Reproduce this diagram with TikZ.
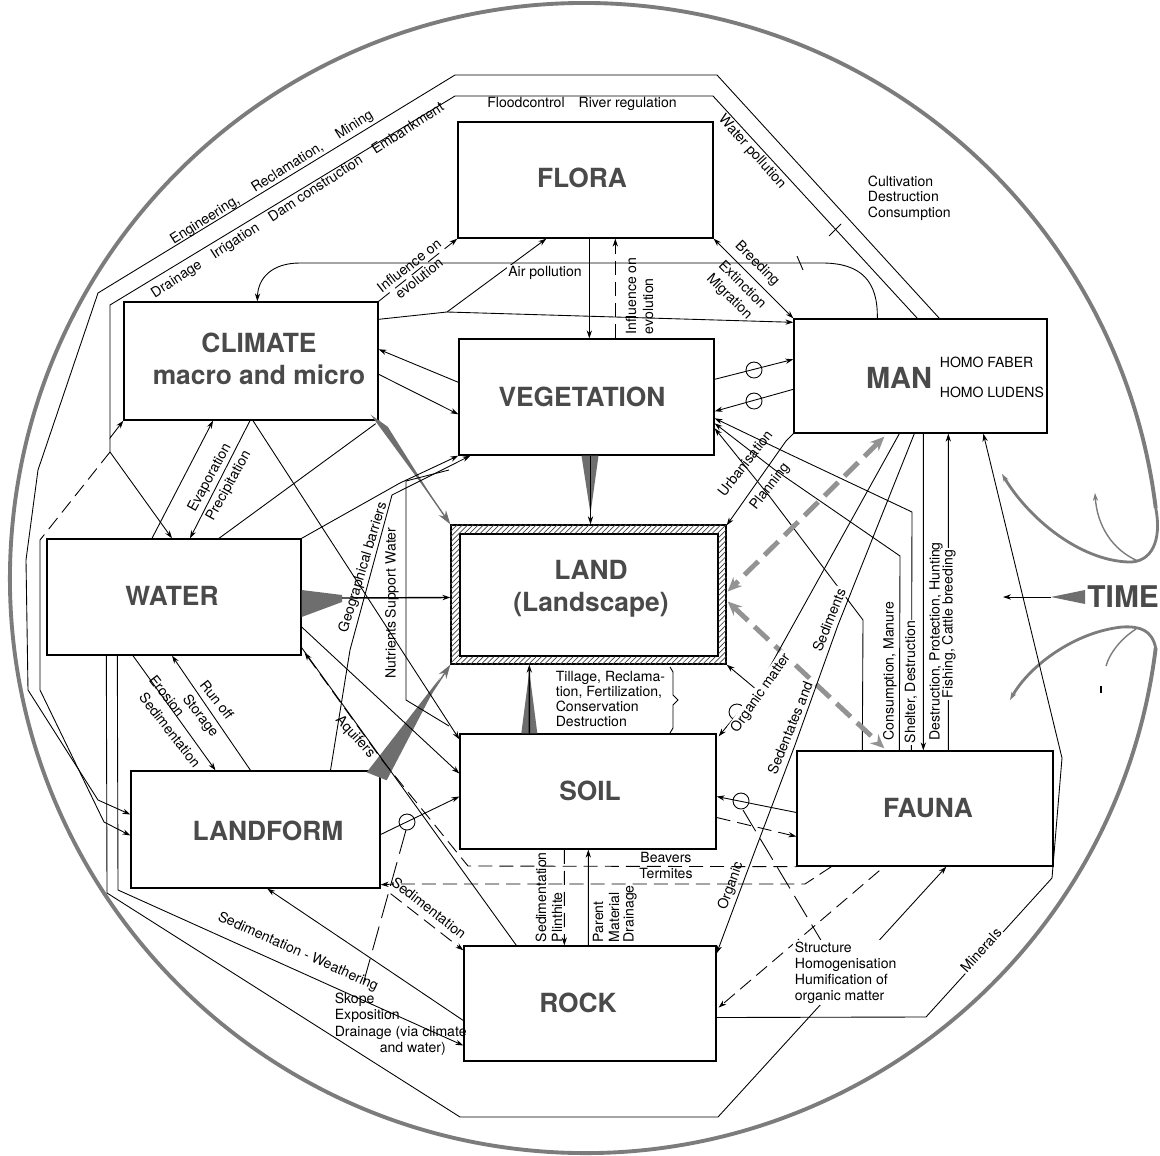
\documentclass[tikz,border=0pt]{standalone}
\usepackage{fontspec}
\setmainfont{TeX Gyre Heros}
\usetikzlibrary{calc,arrows.meta,patterns}
\definecolor{ttl}{HTML}{4A4A4A}
\definecolor{ringc}{HTML}{7C7C7C}
\definecolor{wdg}{HTML}{6E6E6E}
\begin{document}
\begin{tikzpicture}[x=0.02cm,y=-0.02cm,
  >={Stealth[length=4.5pt,width=3pt]},
  line width=0.5pt,
  box/.style={draw,line width=0.8pt,inner sep=0pt},
  ttlnode/.style={font=\fontsize{15}{18}\selectfont\bfseries,text=ttl,align=center,inner sep=0pt},
  lab/.style={font=\fontsize{8}{9.2}\selectfont,inner sep=0.8pt},
  labw/.style={lab,fill=white},
  wedge/.style={fill=wdg,draw=none},
  bigtip/.style={-{Stealth[length=8pt,width=5pt]}},
  gdash/.style={draw=gray!85,line width=2.8pt,dash pattern=on 11pt off 5pt,
     {Stealth[length=8pt,width=7pt]}-{Stealth[length=8pt,width=7pt]}},
  ldash/.style={dash pattern=on 8pt off 4pt},
  circ/.style={draw=ringc,line width=2.2pt}
]
\fill[white] (0,0) rectangle (1160,1156);
\useasboundingbox (0,0) rectangle (1160,1156);

% ---------------- boxes ----------------
\node[box,minimum width=5.10cm,minimum height=2.32cm] (fl) at (585.5,180) {};
\node[box,minimum width=5.08cm,minimum height=2.36cm] (cl) at (251,361) {};
\node[box,minimum width=5.10cm,minimum height=2.32cm] (ve) at (586.5,397) {};
\node[box,minimum width=5.06cm,minimum height=2.28cm] (ma) at (920.5,376) {};
\node[box,minimum width=5.08cm,minimum height=2.32cm] (wa) at (174,597) {};
\node[box,minimum width=5.50cm,minimum height=2.78cm] (la) at (588.5,594.5) {};
\node[box,minimum width=5.16cm,minimum height=2.44cm] (lai) at (589,595) {};
\node[box,minimum width=5.12cm,minimum height=2.30cm] (so) at (588,791.5) {};
\node[box,minimum width=4.98cm,minimum height=2.34cm] (lf) at (255.5,829.5) {};
\node[box,minimum width=5.12cm,minimum height=2.30cm] (fa) at (925,808.5) {};
\node[box,minimum width=5.04cm,minimum height=2.30cm] (ro) at (590,1003.5) {};
\fill[pattern=north east lines,pattern color=black!75,even odd rule]
  (la.north west) rectangle (la.south east) (lai.north west) rectangle (lai.south east);

\node[ttlnode] (flt) at (582,178) {FLORA};
\node[ttlnode] (clt) at (259,359) {CLIMATE\\macro and micro};
\node[ttlnode] (vet) at (582,397) {VEGETATION};
\node[ttlnode,font=\fontsize{16.5}{18}\selectfont\bfseries] (mat) at (899,378) {MAN};
\node[lab,anchor=west] (hf) at (938,362) {HOMO FABER};
\node[lab,anchor=west] (hl) at (938,392) {HOMO LUDENS};
\node[ttlnode] (wat) at (172,596) {WATER};
\node[ttlnode] (lat) at (591,589) {LAND\\(Landscape)};
\node[ttlnode] (sot) at (590,791) {SOIL};
\node[ttlnode] (lft) at (268,831) {LANDFORM};
\node[ttlnode] (fat) at (928,808) {FAUNA};
\node[ttlnode] (rot) at (578,1003) {ROCK};

% ---------------- outer ring and TIME ----------------
\coordinate (rt) at (1155.7,507.9);
\coordinate (rb) at (1155.7,648.1);
\draw[circ] (rb) arc[start angle=7,end angle=353,radius=575];
\draw[draw=ringc,line width=1.6pt,->] (rt) .. controls (1162,540) and (1152,563) .. (1128,562)
   .. controls (1080,560) and (1030,520) .. (1002,474);
\draw[draw=ringc,line width=1.6pt,->] (rb) .. controls (1152,630) and (1140,626) .. (1122,627)
   .. controls (1075,632) and (1030,665) .. (1010,700);
\draw[draw=ringc,line width=0.8pt,->] (1138,561) .. controls (1112,550) and (1097,525) .. (1095,493);
\draw[draw=ringc,line width=0.8pt] (1136,629) .. controls (1122,638) and (1110,652) .. (1106,666);
\draw[line width=0.8pt] (1101,686) -- (1101,693);
\node[anchor=west,font=\fontsize{17}{17}\selectfont\bfseries,text=ttl,inner sep=0pt] (time) at (1087,597) {TIME};
\fill[wedge] ($(time.west)+(-2,-7)$) -- ($(time.west)+(-2,7)$) -- ($(time.west)+(-36,0)$) -- cycle;
\draw[->] ($(time.west)+(-36,0)$) -- (1003,597);

% ---------------- outer channels ----------------
\coordinate (a1) at (717,75);  \coordinate (a2) at (455,75);
\coordinate (a3) at (98,293);  \coordinate (a4) at (38,470);
\coordinate (a5) at (26,560);  \coordinate (a6) at (28,690);
\coordinate (a7) at (98,800);
\draw[->] ($(ma.north west)+(146,0)$) -- (a1) -- (a2) -- (a3) -- (a4) -- (a5) -- (a6) -- (a7) -- ($(lf.west)+(0,-15)$);
\coordinate (b1) at (713,96);  \coordinate (b2) at (455,96);
\coordinate (b3) at (110,305); \coordinate (b4) at (110,438);
\draw[->] ($(ma.north west)+(124,0)$) -- (b1) -- (b2) -- (b3) -- (b4) -- (cl.south west);
\draw (829,236) -- (841,224);
\node[lab,rotate=32.5] (eng) at (272,178) {Engineering,\hspace{1.25em}Reclamation,\hspace{1.25em}Mining};
\node[lab,rotate=33] (dra) at (298,201) {Drainage\hspace{1em}Irrigation\hspace{1em}Dam construction\hspace{1em}Embankment};
\node[lab] (flood) at (582,104) {Floodcontrol\hspace{1em}River regulation};
\node[lab,rotate=-48] (wpol) at (752,152) {Water pollution};
\node[lab,align=left,anchor=west,font=\fontsize{8}{8.8}\selectfont] (cult) at (866,198) {Cultivation\\Destruction\\Consumption};

% left side
\coordinate (jl) at (110,452);
\coordinate (d1) at (40,540); \coordinate (d2) at (40,690); \coordinate (d3) at (104,822);
\draw[ldash] (jl) -- (d1);
\draw[->] (d1) -- (d2) -- (d3) -- ($(lf.west)+(0,6)$);
\draw[->] (b4) -- (jl) -- ($(wa.north)+(-2,0)$);
\coordinate (w1) at (107,893); \coordinate (w2) at (460,1117); \coordinate (w3) at (718,1117);
\draw[->] ($(wa.south west)+(60,0)$) -- (w1) -- (w2) -- (w3) -- ($(fa.south west)+(150,0)$);
\coordinate (s1) at (118,890);
\draw[->] ($(wa.south west)+(71,0)$) -- (s1) -- ($(ro.west)+(0,42)$);
\node[lab,rotate=-24] (sw) at (298,952) {Sedimentation - Weathering};
\draw[->] ($(ro.west)+(0,17)$) -- ($(lf.south west)+(137,0)$);

% ---------------- top region ----------------
\coordinate (arcR) at (822,263); \coordinate (arcL) at (300,263);
\draw[->] ($(ma.north west)+(84,0)$) .. controls (878,282) and (862,263) .. (arcR) -- (arcL)
   .. controls (272,263) and (258,278) .. ($(cl.north west)+(134,0)$);
\draw (797,256) -- (803,270);
\draw[ldash,->] (cl.north east) -- (fl.south west);
\node[lab,rotate=38,align=center] (infl) at (414,272) {Influence on\\evolution};
\coordinate (ap) at (447,312);
\draw[->] ($(cl.north east)+(0,18)$) -- (ap) -- ($(fl.south west)+(89,0)$);
\draw[->] (ap) -- ($(ma.north west)+(0,4)$);
\node[labw] (airp) at (545,273) {Air pollution};
\draw[->] ($(fl.south west)+(132,0)$) -- ($(ve.north west)+(131,0)$);
\draw[ldash,->] ($(ve.north west)+(157,0)$) -- ($(fl.south west)+(158,0)$);
\node[lab,rotate=90,anchor=west] (inf2a) at (631,336) {Influence on};
\node[lab,rotate=90,anchor=west] (inf2b) at (648,336) {evolution};
\draw[<->] (fl.south east) -- (ma.north west);
\node[lab,rotate=-45] (bree) at (757,264) {Breeding};
\node[lab,rotate=-45] (exti) at (743,284) {Extinction};
\node[lab,rotate=-45] (migr) at (729,297) {Migration};

% CLIMATE - VEGETATION - MAN
\draw[<-] ($(cl.north east)+(0,48)$) -- ($(ve.north west)+(0,44)$);
\draw[->] ($(cl.north east)+(0,73)$) -- ($(ve.north west)+(0,76)$);
\draw[->] ($(ve.north east)+(0,41)$) -- ($(ma.north west)+(0,41)$);
\draw (754,370) circle[radius=8];
\draw[->] ($(ma.north west)+(0,71)$) -- ($(ve.north east)+(0,73)$);
\draw (754,401) circle[radius=8];
\draw[->] (ma.south west) -- (786,441) -- ($(la.north east)+(0,1)$);
\node[lab,rotate=52] (urb) at (745,463) {Urbanisation};
\node[lab,rotate=52] (plan) at (770,487) {Planning};

% fan from VEGETATION to FAUNA
\coordinate (f1a) at (787,453); \coordinate (f1b) at (912,512);
\coordinate (f2a) at (775,470); \coordinate (f2b) at (900,556);
\coordinate (f3a) at (770,497); \coordinate (f3b) at (863,620);
\draw[<-] ($(ve.north east)+(0,80)$) -- (f1a) -- (f1b) -- ($(fa.north west)+(115,0)$);
\draw[<-] ($(ve.north east)+(0,85)$) -- (f2a) -- (f2b) -- ($(fa.north west)+(103,0)$);
\draw[<-] ($(ve.north east)+(0,90)$) -- (f3a) -- (f3b) -- ($(fa.north west)+(66,0)$);
\node[lab,rotate=90,anchor=west] (cons) at (890,742) {Consumption, Manure};
\node[labw,rotate=90,anchor=west] (shel) at (911,745) {Shelter, Destruction};
\draw[->] ($(ma.south west)+(130,0)$) -- ($(fa.north west)+(127,0)$);
\node[lab,rotate=90,anchor=west] (dest) at (936,742) {Destruction, Protection, Hunting};
\draw[->] ($(fa.north west)+(152,0)$) -- ($(ma.south west)+(155,0)$);
\node[labw,rotate=90,anchor=west] (fish) at (949,700) {Fishing, Cattle breeding};

% ---------------- big wedges into LAND ----------------
\fill[wedge] ($(cl.south east)+(-8,-6)$) -- ($(cl.south east)+(9,6)$) -- (437,505) -- cycle;
\draw[line width=0.8pt,draw=wdg,bigtip] (cl.south east) -- (la.north west);
\fill[wedge] ($(ve.south)+(-5,0)$) -- ($(ve.south)+(12,0)$) -- ($(ve.south)+(4,58)$) -- cycle;
\draw[line width=0.8pt,->] ($(ve.south)+(4,0)$) -- ($(la.north)+(2,0)$);
\fill[wedge] ($(wa.east)+(0,-7)$) -- (342,595) -- (342,602) -- ($(wa.east)+(0,20)$) -- cycle;
\draw[line width=0.8pt,->] (342,598) -- ($(la.west)+(0,3)$);
\fill[wedge] ($(so.north west)+(62,0)$) -- ($(so.north west)+(78,0)$) -- ($(so.north west)+(70,-62)$) -- cycle;
\draw[line width=0.8pt,->] ($(so.north west)+(70,0)$) -- ($(la.south west)+(79,0)$);
\fill[wedge] ($(lf.north east)+(-14,2)$) -- ($(lf.north east)+(6,10)$) -- (440,678) -- cycle;
\draw[line width=0.8pt,draw=wdg,bigtip] (lf.north east) -- (la.south west);

% grey dashed links MAN / FAUNA - LAND
\draw[gdash] ($(ma.south west)+(91,3)$) -- ($(la.east)+(1,-3)$);
\draw[gdash] ($(la.east)+(1,7)$) -- ($(fa.north west)+(88,-2)$);

% ---------------- WATER / CLIMATE / LANDFORM ----------------
\draw[->] ($(wa.north)+(-22,0)$) -- ($(cl.south)+(-38,0)$);
\draw[->] ($(cl.south)+(-1,0)$) -- ($(wa.north)+(16,0)$);
\node[lab,rotate=61] (evap) at (210,478) {Evaporation};
\node[lab,rotate=61] (prec) at (229,486) {Precipitation};
\draw[->] ($(cl.south)+(2,0)$) -- ($(so.north west)+(0,6)$);
\draw ($(wa.north)+(45,0)$) -- ($(cl.south east)+(-3,3)$);
\coordinate (wv) at (400,483);
\draw[->] (wa.north east) -- (wv) -- (ve.south west);
\coordinate (gb1) at (350,650); \coordinate (gb2) at (392,495);
\draw[->] ($(lf.north)+(75,0)$) -- (gb1) -- (gb2) -- ($(ve.south west)+(12,0)$);
\node[lab,rotate=73,anchor=west] (geo) at (343,634) {Geographical barriers};
\draw (449,470) -- (406,481) -- (406,700) -- (449,726);
\node[lab,rotate=90,anchor=west] (nut) at (392,680) {Nutrients Support Water};
\draw[->] ($(wa.south)+(-41,0)$) -- ($(lf.north)+(-40,0)$);
\draw[->] ($(lf.north)+(-5,0)$) -- ($(wa.south)+(-2,0)$);
\node[lab,rotate=-52] (runo) at (217,700) {Run off};
\node[lab,rotate=-52] (stor) at (200,716) {Storage};
\node[lab,rotate=-52] (eros) at (167,696) {Erosion};
\node[lab,rotate=-52] (sedi) at (170,730) {Sedimentation};
\draw[->] ($(wa.east)+(0,30)$) -- ($(so.west)+(0,-18)$);
\draw ($(wa.south east)+(0,-8)$) -- ($(ro.north west)+(53,0)$);
\coordinate (bv1) at (382,760); \coordinate (bv2) at (468,866);
\draw[ldash,<-] ($(wa.south east)+(3,-3)$) -- (bv1) -- (bv2) -- (fa.south west);
\node[lab,rotate=-48] (aqu) at (355,737) {Aquifers};
\node[lab] (beav) at (666,857) {Beavers};
\coordinate (tm1) at (805,884); \coordinate (tm2) at (395,884);
\draw[ldash,->] ($(fa.south west)+(35,0)$) -- (tm1) -- (tm2) -- ($(lf.south east)+(0,-4)$);
\node[lab] (term) at (666,873) {Termites};

% LANDFORM - SOIL - ROCK
\draw[->] ($(lf.east)+(0,5)$) -- ($(so.west)+(0,5)$);
\draw (407,822) circle[radius=8];
\draw[dash pattern=on 14pt off 5pt] (406,830) -- (362,988);
\draw[ldash,->] ($(lf.south east)+(10,5)$) -- ($(ro.north west)+(0,5)$);
\node[lab,rotate=-38] (sedr) at (429,908) {Sedimentation};
\node[lab,align=left,anchor=north west,font=\fontsize{8}{9.3}\selectfont] (skope) at (333,991)
  {Skope\\Exposition\\Drainage (via climate\\\hspace*{3.2em}and water)};
\draw[ldash,->] ($(so.south west)+(105,0)$) -- ($(ro.north west)+(101,0)$);
\draw[->] ($(ro.north west)+(125,0)$) -- ($(so.south west)+(129,0)$);
\node[lab,rotate=90,anchor=west] (sedm) at (541,944) {Sedimentation};
\node[lab,rotate=90,anchor=west] (plin) at (557,944) {Plinthite};
\node[lab,rotate=90,anchor=west] (pare) at (598,944) {Parent};
\node[lab,rotate=90,anchor=west] (mate) at (614,944) {Material};
\node[lab,rotate=90,anchor=west] (drai) at (630,944) {Drainage};

% ---------------- right side lower ----------------
\coordinate (om) at (757,690);
\draw[->] ($(ma.south west)+(106,0)$) -- (om) -- (la.south east);
\draw[->] (om) -- ($(so.north east)+(2,3)$);
\draw (737,712) circle[radius=8];
\node[labw,rotate=55] (orgm) at (761,693) {Organic matter};
\coordinate (sd1) at (838,625); \coordinate (sd2) at (795,745); \coordinate (sd3) at (756,848);
\draw[->] ($(ma.south west)+(121,0)$) -- (sd1) -- (sd2) -- (sd3) -- ($(ro.north east)+(0,8)$);
\node[labw,rotate=68] (sedt) at (829,620) {Sediments};
\node[labw,rotate=68] (sedn) at (790,728) {Sedentates and};
\node[lab,rotate=70] (orga) at (731,886) {Organic};
\draw[->] ($(fa.west)+(0,4)$) -- ($(so.east)+(0,5)$);
\draw (741,801) circle[radius=8];
\draw[ldash,->] ($(so.east)+(0,26)$) -- ($(fa.west)+(0,28)$);
\draw[dash pattern=on 14pt off 5pt] (743,810) -- (822,942);
\draw[ldash,->] ($(fa.south west)+(83,4)$) -- ($(ro.east)+(2,4)$);
\coordinate (mn1) at (926,1017); \coordinate (mn2) at (1052,878); \coordinate (mn3) at (1062,758);
\draw[->] ($(ro.east)+(0,14)$) -- (mn1) -- (mn2) -- (mn3) -- ($(ma.south west)+(190,0)$);
\node[labw,rotate=48] (mine) at (981,950) {Minerals};
\node[labw,align=left,anchor=north west,font=\fontsize{8}{9.2}\selectfont] (struc) at (793,940)
  {Structure\\Homogenisation\\Humification of\\organic matter};

% Tillage bracket
\node[lab,align=left,anchor=north west,font=\fontsize{8}{8.6}\selectfont] (till) at (554,669)
  {Tillage, Reclama-\\tion, Fertilization,\\Conservation\\Destruction};
\draw (670,667) -- (673,672) -- (673,695) -- (678,700) -- (673,705) -- (673,728) -- (670,733);
\end{tikzpicture}
\end{document}
